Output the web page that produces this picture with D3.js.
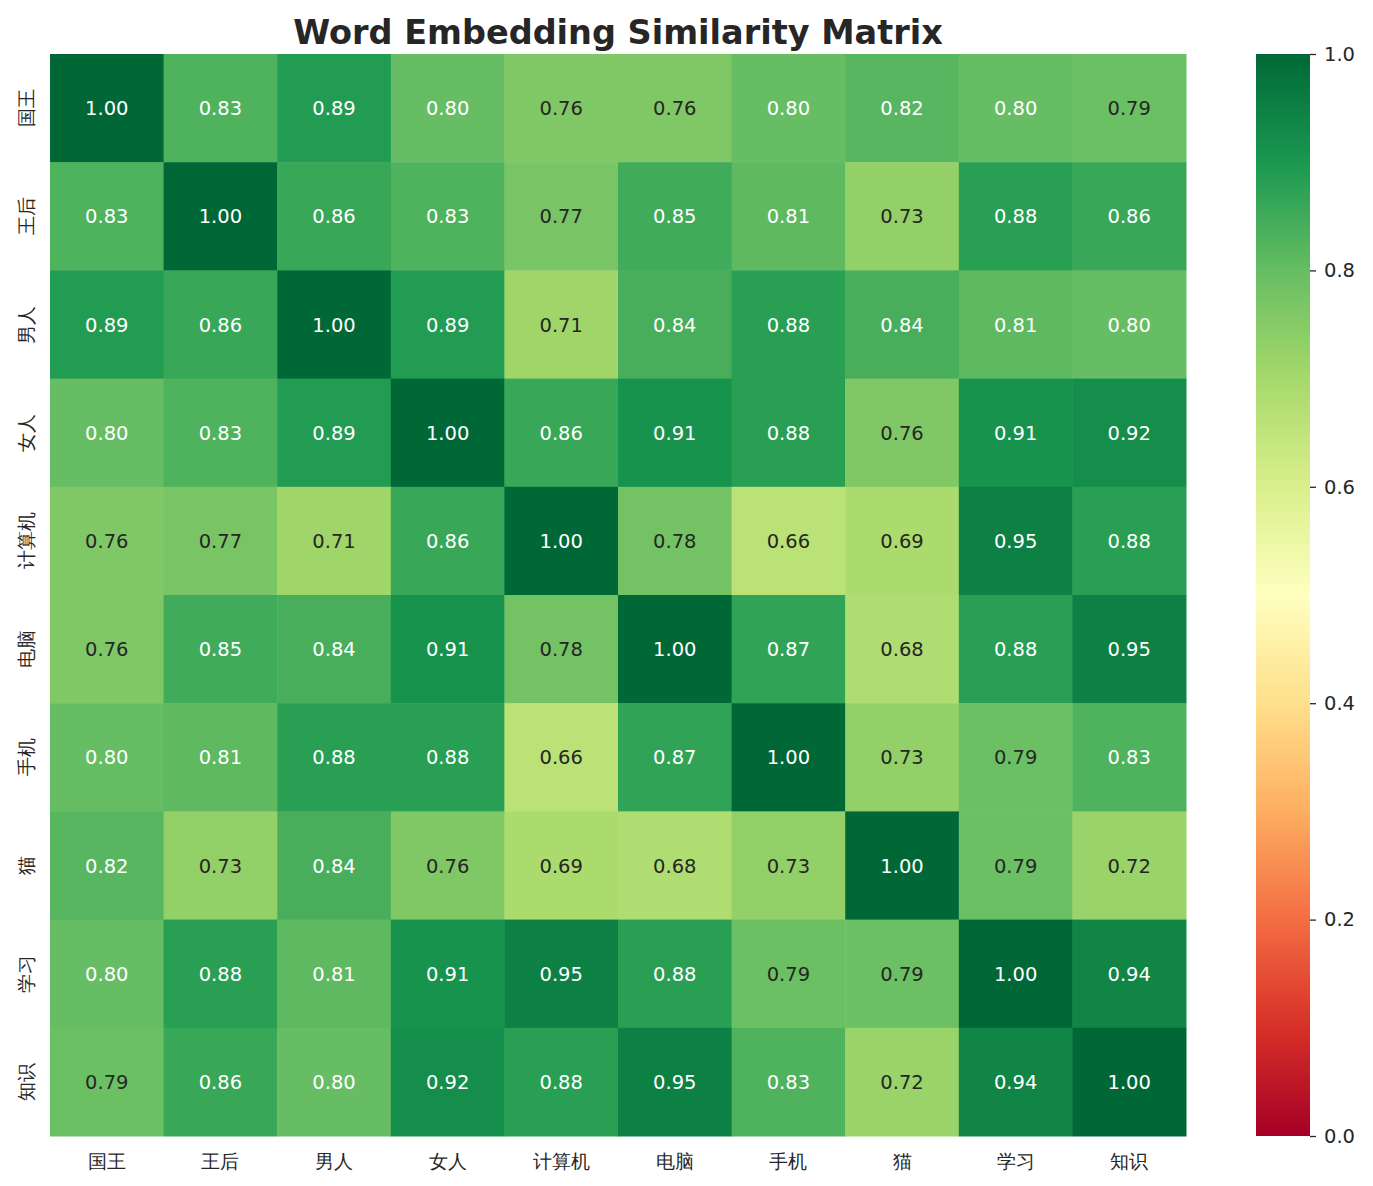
<!DOCTYPE html>
<html><head><meta charset="utf-8">
<script src="https://cdn.jsdelivr.net/npm/d3@7"></script>
<style>body{margin:0;background:#fff;}svg{display:block;}</style>
</head><body>
<svg id="c" width="1373" height="1186"></svg>
<script>
const words = ["国王","王后","男人","女人","计算机","电脑","手机","猫","学习","知识"];
const row0 = [1.00,0.83,0.89,0.80,0.76,0.76,0.80,0.82,0.80,0.79];
const row1 = [0.83,1.00,0.86,0.83,0.77,0.85,0.81,0.73,0.88,0.86];
const row2 = [0.89,0.86,1.00,0.89,0.71,0.84,0.88,0.84,0.81,0.80];
const row3 = [0.80,0.83,0.89,1.00,0.86,0.91,0.88,0.76,0.91,0.92];
const row4 = [0.76,0.77,0.71,0.86,1.00,0.78,0.66,0.69,0.95,0.88];
const row5 = [0.76,0.85,0.84,0.91,0.78,1.00,0.87,0.68,0.88,0.95];
const row6 = [0.80,0.81,0.88,0.88,0.66,0.87,1.00,0.73,0.79,0.83];
const row7 = [0.82,0.73,0.84,0.76,0.69,0.68,0.73,1.00,0.79,0.72];
const row8 = [0.80,0.88,0.81,0.91,0.95,0.88,0.79,0.79,1.00,0.94];
const row9 = [0.79,0.86,0.80,0.92,0.88,0.95,0.83,0.72,0.94,1.00];
const matrix = [row0,row1,row2,row3,row4,row5,row6,row7,row8,row9];
const cbTicks = [0.0,0.2,0.4,0.6,0.8,1.0];
const title = "Word Embedding Similarity Matrix";

const rdylgn = ['#a50026','#d73027','#f46d43','#fdae61','#fee08b','#ffffbf','#d9ef8b','#a6d96a','#66bd63','#1a9850','#006837'];
const color = d3.scaleLinear().domain(d3.range(11).map(i=>i/10)).range(rdylgn).interpolate(d3.interpolateRgb).clamp(true);

const svg = d3.select("#c");
const FONT = "'DejaVu Sans', sans-serif";
const L=50,R=1186,T=54,B=1136;
const x = d3.scaleBand().domain(words.map((w,i)=>i)).range([L,R]);
const y = d3.scaleBand().domain(words.map((w,i)=>i)).range([T,B]);

function lum(c){
  const rgb=d3.rgb(c);
  const f=v=>{v/=255;return v<=0.03928?v/12.92:Math.pow((v+0.055)/1.055,2.4);};
  return 0.2126*f(rgb.r)+0.7152*f(rgb.g)+0.0722*f(rgb.b);
}

const cells=[];
matrix.forEach((r,i)=>r.forEach((v,j)=>cells.push({i,j,v})));
svg.append("g").selectAll("rect").data(cells).join("rect")
  .attr("x",d=>x(d.j)).attr("y",d=>y(d.i))
  .attr("width",x.bandwidth()+0.5).attr("height",y.bandwidth()+0.5)
  .attr("fill",d=>color(d.v));
svg.append("g").selectAll("text").data(cells).join("text")
  .attr("x",d=>x(d.j)+x.bandwidth()/2).attr("y",d=>y(d.i)+y.bandwidth()/2+7)
  .attr("text-anchor","middle")
  .attr("font-family",FONT).attr("font-size",19.5)
  .attr("fill",d=>lum(color(d.v))>0.408?"#262626":"#ffffff")
  .text(d=>d3.format(".2f")(d.v));

// x labels
svg.append("g").selectAll("text").data(words).join("text")
  .attr("x",(w,i)=>x(i)+x.bandwidth()/2).attr("y",1161)
  .attr("text-anchor","middle").attr("dominant-baseline","central")
  .attr("font-family",FONT).attr("font-size",19).attr("fill","#262626")
  .text(w=>w);
// y labels
svg.append("g").selectAll("text").data(words).join("text")
  .attr("transform",(w,i)=>`translate(25.5,${y(i)+y.bandwidth()/2}) rotate(-90)`)
  .attr("text-anchor","middle").attr("dominant-baseline","central")
  .attr("font-family",FONT).attr("font-size",19).attr("fill","#262626")
  .text(w=>w);

// title
svg.append("text").attr("x",(L+R)/2).attr("y",44)
  .attr("text-anchor","middle")
  .attr("font-family",FONT).attr("font-weight","bold").attr("font-size",33.5)
  .attr("fill","#262626").text(title);

// colorbar
const cbX=1256,cbW=54;
const cy = d3.scaleLinear().domain([0,1]).range([B,T]);
const defs=svg.append("defs");
const grad=defs.append("linearGradient").attr("id","g").attr("x1",0).attr("y1",1).attr("x2",0).attr("y2",0);
d3.range(0,1.0001,0.02).forEach(t=>grad.append("stop").attr("offset",t).attr("stop-color",color(t)));
svg.append("rect").attr("x",cbX).attr("y",T).attr("width",cbW).attr("height",B-T).attr("fill","url(#g)");
const ax = svg.append("g").attr("transform",`translate(${cbX+cbW},0)`)
  .call(d3.axisRight(cy).tickValues(cbTicks).tickFormat(d3.format(".1f")).tickSize(6).tickPadding(8));
ax.select(".domain").remove();
ax.selectAll("line").attr("stroke","#262626").attr("stroke-width",1.3);
ax.selectAll("text").attr("font-family",FONT).attr("font-size",19.5).attr("fill","#262626");
</script>
</body></html>
